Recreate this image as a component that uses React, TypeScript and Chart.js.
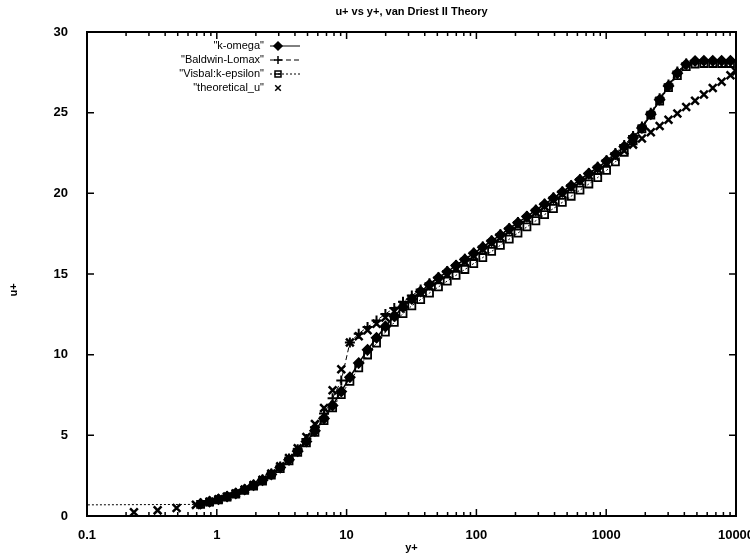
import React, { useEffect, useRef } from 'react';
import { Chart, registerables } from 'chart.js';

Chart.register(...registerables);

const chartTitle = 'u+ vs y+, van Driest II Theory';
const xAxisTitle = 'y+';
const yAxisTitle = 'u+';
const xTickValues = [0.1, 1, 10, 100, 1000, 10000];
const xTickLabels = ['0.1', '1', '10', '100', '1000', '10000'];
const yTickValues = [0, 5, 10, 15, 20, 25, 30];

const seriesNames = ['"k-omega"', '"Baldwin-Lomax"', '"Visbal:k-epsilon"', '"theoretical_u"'];

// wall-normal stations (y+) of the computed profiles
const yPlus = [
  0.75, 0.88, 1.03, 1.2, 1.4, 1.64, 1.92, 2.25, 2.63, 3.08, 3.6, 4.2, 4.9, 5.7, 6.7, 7.8,
  9.1, 10.6, 12.4, 14.5, 17, 19.9, 23.3, 27.2, 31.8, 37.2, 43.5, 51, 59.6, 69.7, 81.5, 95.4,
  112, 131, 153, 179, 209, 245, 287, 335, 392, 459, 537, 628, 735, 860, 1006, 1177, 1377,
  1611, 1885, 2206, 2581, 3020, 3533, 4134, 4837, 5659, 6621, 7747, 9064,
];

const uKOmega = [
  0.76, 0.89, 1.04, 1.21, 1.4, 1.64, 1.91, 2.22, 2.58, 3.0, 3.48, 4.02, 4.62, 5.28, 6.05, 6.85,
  7.72, 8.6, 9.48, 10.3, 11.05, 11.75, 12.38, 12.95, 13.45, 13.92, 14.35, 14.76, 15.14, 15.52, 15.9, 16.28,
  16.66, 17.04, 17.42, 17.8, 18.18, 18.56, 18.94, 19.32, 19.7, 20.08, 20.46, 20.84, 21.22, 21.6, 22.0, 22.42, 22.9,
  23.45, 24.05, 24.9, 25.8, 26.65, 27.45, 28.0, 28.2, 28.22, 28.22, 28.22, 28.22,
];

const uBaldwinLomax = [
  0.77, 0.9, 1.05, 1.22, 1.42, 1.66, 1.94, 2.26, 2.63, 3.07, 3.57, 4.14, 4.78, 5.5, 6.35, 7.3,
  8.4, 10.75, 11.3, 11.72, 12.12, 12.52, 12.9, 13.28, 13.66, 14.04, 14.42, 14.8, 15.18, 15.56, 15.94, 16.32,
  16.7, 17.08, 17.46, 17.84, 18.22, 18.6, 18.98, 19.36, 19.74, 20.12, 20.5, 20.88, 21.26, 21.65, 22.05, 22.5, 23.0,
  23.55, 24.15, 25.0, 25.9, 26.75, 27.55, 28.05, 28.2, 28.2, 28.2, 28.2, 28.2,
];

const yPlusVisbal = [
  0.05, 0.75, 0.88, 1.03, 1.2, 1.4, 1.64, 1.92, 2.25, 2.63, 3.08, 3.6, 4.2, 4.9, 5.7, 6.7, 7.8,
  9.1, 10.6, 12.4, 14.5, 17, 19.9, 23.3, 27.2, 31.8, 37.2, 43.5, 51, 59.6, 69.7, 81.5, 95.4,
  112, 131, 153, 179, 209, 245, 287, 335, 392, 459, 537, 628, 735, 860, 1006, 1177, 1377,
  1611, 1885, 2206, 2581, 3020, 3533, 4134, 4837, 5659, 6621, 7747, 9064,
];

const uVisbal = [
  0.68, 0.72, 0.86, 1.0, 1.17, 1.36, 1.59, 1.86, 2.17, 2.53, 2.94, 3.42, 3.95, 4.54, 5.18, 5.92, 6.7,
  7.52, 8.35, 9.18, 9.98, 10.72, 11.4, 12.0, 12.55, 13.03, 13.42, 13.82, 14.2, 14.56, 14.92, 15.28, 15.65,
  16.02, 16.4, 16.78, 17.16, 17.54, 17.92, 18.3, 18.68, 19.06, 19.44, 19.82, 20.2, 20.58, 20.98, 21.42, 21.95, 22.55,
  23.25, 24.0, 24.85, 25.72, 26.55, 27.3, 27.85, 28.02, 28.05, 28.05, 28.05, 28.05,
];

const yPlusTheory = [
  0.23, 0.35, 0.49, 0.69, 0.88, 1.03, 1.2, 1.4, 1.64, 1.92, 2.25, 2.63, 3.08, 3.6, 4.2, 4.9, 5.7, 6.7, 7.8,
  9.1, 10.6, 12.4, 14.5, 17, 19.9, 23.3, 27.2, 31.8, 37.2, 43.5, 51, 59.6, 69.7, 81.5, 95.4,
  112, 131, 153, 179, 209, 245, 287, 335, 392, 459, 537, 628, 735, 860, 1006, 1177, 1377,
  1611, 1885, 2206, 2581, 3020, 3533, 4134, 4837, 5659, 6621, 7747, 9064, 10000,
];

const uTheory = [
  0.23, 0.35, 0.49, 0.69, 0.88, 1.03, 1.2, 1.4, 1.64, 1.92, 2.25, 2.63, 3.08, 3.6, 4.2, 4.9, 5.7, 6.7, 7.8,
  9.1, 10.76, 11.14, 11.52, 11.91, 12.3, 12.68, 13.06, 13.44, 13.82, 14.21, 14.59, 14.97, 15.36, 15.74, 16.12,
  16.51, 16.9, 17.27, 17.66, 18.03, 18.42, 18.81, 19.19, 19.57, 19.95, 20.34, 20.72, 21.1, 21.49, 21.87, 22.25, 22.64,
  23.02, 23.4, 23.79, 24.17, 24.56, 24.95, 25.35, 25.74, 26.13, 26.53, 26.92, 27.32, 27.56,
];

const FONT = '"Liberation Sans", Arial, Helvetica, sans-serif';

function pairs(xs: number[], ys: number[]) {
  return xs.map((x, i) => ({ x, y: ys[i] }));
}

function drawMarker(ctx: CanvasRenderingContext2D, style: string, x: number, y: number, r: number, filled: boolean) {
  ctx.beginPath();
  if (style === 'rectRot') {
    ctx.moveTo(x, y - r);
    ctx.lineTo(x + r, y);
    ctx.lineTo(x, y + r);
    ctx.lineTo(x - r, y);
    ctx.closePath();
  } else if (style === 'rect') {
    const h = r * 0.75;
    ctx.rect(x - h, y - h, 2 * h, 2 * h);
    ctx.moveTo(x - h, y);
    ctx.lineTo(x + h, y);
  } else if (style === 'cross') {
    ctx.moveTo(x - r, y);
    ctx.lineTo(x + r, y);
    ctx.moveTo(x, y - r);
    ctx.lineTo(x, y + r);
  } else if (style === 'crossRot') {
    const d = r * 0.7;
    ctx.moveTo(x - d, y - d);
    ctx.lineTo(x + d, y + d);
    ctx.moveTo(x + d, y - d);
    ctx.lineTo(x - d, y + d);
  }
  if (filled) ctx.fill();
  ctx.stroke();
}

const gnuplotFrame = {
  id: 'gnuplotFrame',
  afterDraw(chart: any) {
    const { ctx, chartArea: a, scales } = chart;
    ctx.save();
    ctx.strokeStyle = '#000';
    ctx.fillStyle = '#000';
    ctx.setLineDash([]);
    ctx.lineWidth = 2;
    ctx.strokeRect(a.left, a.top, a.right - a.left, a.bottom - a.top);
    ctx.lineWidth = 1.5;
    // inward y ticks on both sides
    for (const v of yTickValues) {
      const py = scales.y.getPixelForValue(v);
      ctx.beginPath();
      ctx.moveTo(a.left, py);
      ctx.lineTo(a.left + 7, py);
      ctx.moveTo(a.right, py);
      ctx.lineTo(a.right - 7, py);
      ctx.stroke();
    }
    // inward x ticks (major decades + minor) on bottom and top
    for (let d = 0; d < xTickValues.length; d++) {
      const base = xTickValues[d];
      for (let m = 1; m <= 9; m++) {
        const v = base * m;
        if (v > xTickValues[xTickValues.length - 1] + 1e-9) break;
        const px = scales.x.getPixelForValue(v);
        const len = m === 1 ? 7 : 4;
        ctx.beginPath();
        ctx.moveTo(px, a.bottom);
        ctx.lineTo(px, a.bottom - len);
        ctx.moveTo(px, a.top);
        ctx.lineTo(px, a.top + len);
        ctx.stroke();
      }
    }
    // y axis title (gnuplot places it a little below centre)
    ctx.save();
    ctx.translate(14, 290);
    ctx.rotate(-Math.PI / 2);
    ctx.font = 'bold 11px ' + FONT;
    ctx.textAlign = 'center';
    ctx.textBaseline = 'middle';
    ctx.fillText(yAxisTitle, 0, 0);
    ctx.restore();
    // legend (gnuplot style: right-aligned key text, sample to the right)
    const textRight = 264;
    const rowTop = 46;
    const rowStep = 14;
    ctx.font = '11px ' + FONT;
    ctx.textAlign = 'right';
    ctx.textBaseline = 'middle';
    chart.data.datasets.forEach((ds: any, i: number) => {
      const y = rowTop + i * rowStep;
      ctx.fillStyle = '#000';
      ctx.fillText(ds.label, textRight, y);
      ctx.lineWidth = 1;
      if (ds.showLine !== false) {
        ctx.setLineDash(ds.borderDash || []);
        ctx.beginPath();
        ctx.moveTo(270, y);
        ctx.lineTo(300, y);
        ctx.stroke();
        ctx.setLineDash([]);
      }
      ctx.fillStyle = ds.pointBackgroundColor;
      ctx.lineWidth = Math.min(ds.pointBorderWidth, 1.5);
      drawMarker(ctx, ds.pointStyle, 278, y, 4, ds.pointStyle === 'rectRot');
    });
    ctx.restore();
  },
};

export default function App() {
  const canvasRef = useRef<HTMLCanvasElement | null>(null);

  useEffect(() => {
    document.body.style.margin = '0';
    const canvas = canvasRef.current;
    if (!canvas) return;
    const chart = new Chart(canvas, {
      type: 'scatter',
      data: {
        datasets: [
          {
            label: seriesNames[0],
            data: pairs(yPlus, uKOmega),
            showLine: true,
            borderColor: '#000',
            borderWidth: 1.5,
            pointStyle: 'rectRot',
            pointRadius: 5,
            pointBorderWidth: 1.5,
            pointBackgroundColor: '#000',
            pointBorderColor: '#000',
          },
          {
            label: seriesNames[1],
            data: pairs(yPlus, uBaldwinLomax),
            showLine: true,
            borderColor: '#000',
            borderWidth: 1,
            borderDash: [5, 3],
            pointStyle: 'cross',
            pointRadius: 5,
            pointBorderWidth: 2,
            pointBackgroundColor: '#000',
            pointBorderColor: '#000',
          },
          {
            label: seriesNames[2],
            data: pairs(yPlusVisbal, uVisbal),
            showLine: true,
            borderColor: '#000',
            borderWidth: 1,
            borderDash: [2, 2],
            pointStyle: 'rect',
            pointRadius: 5,
            pointBorderWidth: 1.8,
            pointBackgroundColor: 'rgba(255,255,255,0)',
            pointBorderColor: '#000',
          },
          {
            label: seriesNames[3],
            data: pairs(yPlusTheory, uTheory),
            showLine: false,
            borderColor: '#000',
            pointStyle: 'crossRot',
            pointRadius: 5.5,
            pointBorderWidth: 2.5,
            pointBackgroundColor: '#000',
            pointBorderColor: '#000',
          },
        ],
      },
      options: {
        animation: false,
        responsive: false,
        maintainAspectRatio: false,
        layout: { padding: { left: 0, right: 14, top: 0, bottom: 0 } },
        plugins: {
          legend: { display: false },
          tooltip: { enabled: false },
          title: {
            display: true,
            text: chartTitle,
            fullSize: false,
            color: '#000',
            font: { family: FONT, size: 11, weight: 'bold' },
            padding: { top: 5, bottom: 13.8 },
          },
        },
        scales: {
          x: {
            type: 'logarithmic',
            min: 0.1,
            max: 10000,
            grid: { display: false, drawTicks: false },
            border: { display: true, color: '#000', width: 2 },
            afterBuildTicks: (s: any) => {
              s.ticks = xTickValues.map((v) => ({ value: v }));
            },
            afterFit: (s: any) => {
              s.height = 40;
              s.paddingLeft = 0;
              s.paddingRight = 0;
            },
            ticks: {
              color: '#000',
              padding: 12,
              autoSkip: false,
              maxRotation: 0,
              font: { family: FONT, size: 13, weight: 'bold' },
              callback: (v: any) => {
                const i = xTickValues.indexOf(Number(v));
                return i >= 0 ? xTickLabels[i] : '';
              },
            },
            title: {
              display: true,
              text: xAxisTitle,
              color: '#000',
              font: { family: FONT, size: 11, weight: 'bold' },
              padding: { top: 0, bottom: 1.4 },
            },
          },
          y: {
            type: 'linear',
            min: 0,
            max: 30,
            grid: { display: false, drawTicks: false },
            border: { display: true, color: '#000', width: 2 },
            afterBuildTicks: (s: any) => {
              s.ticks = yTickValues.map((v) => ({ value: v }));
            },
            afterFit: (s: any) => {
              s.width = 87;
              s.paddingTop = 0;
              s.paddingBottom = 0;
            },
            ticks: {
              color: '#000',
              padding: 19,
              font: { family: FONT, size: 13, weight: 'bold' },
            },
            title: { display: false, text: yAxisTitle },
          },
        },
      },
      plugins: [gnuplotFrame],
    });
    return () => chart.destroy();
  }, []);

  return (
    <div style={{ width: 750, height: 556, background: '#fff' }}>
      <canvas ref={canvasRef} width={750} height={556} style={{ display: 'block' }} />
    </div>
  );
}
